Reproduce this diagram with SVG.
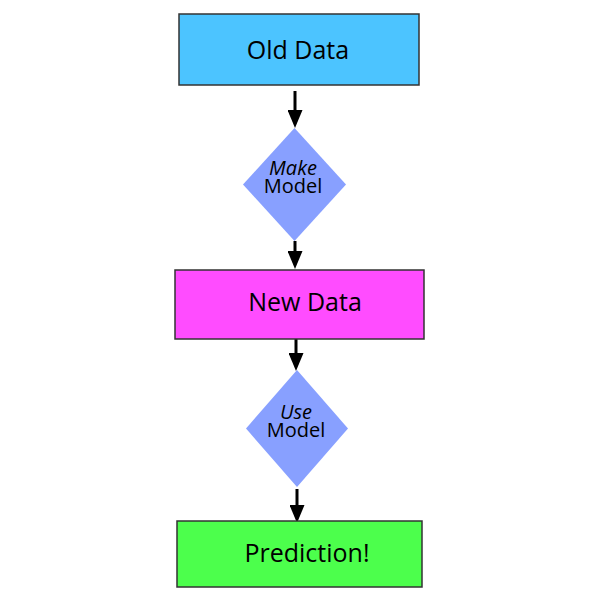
<svg xmlns="http://www.w3.org/2000/svg" width="600" height="600" viewBox="0 0 600 600">
<style>
.box{stroke:#333;stroke-width:1.5}
.dia{fill:#88a0ff;stroke:none}
.t{font-family:"Open Sans","Noto Sans",sans-serif;fill:#000;text-anchor:middle}
.big{font-size:25px}
.sm{font-size:20px}
.arr{stroke:#000;stroke-width:3;fill:none;marker-end:url(#ah)}
</style>
<defs>
<marker id="ah" markerWidth="6" markerHeight="5" refX="0" refY="2.5" orient="auto" markerUnits="strokeWidth">
<path d="M0,0 L6,2.5 L0,5 Z" fill="#000"/>
</marker>
</defs>
<rect width="600" height="600" fill="#fff"/>
<g id="connectors">
<line class="arr" x1="295" y1="91" x2="295" y2="110"/>
<line class="arr" x1="295" y1="241" x2="295" y2="251"/>
<line class="arr" x1="296" y1="339" x2="296" y2="353"/>
<line class="arr" x1="297" y1="489" x2="297" y2="505"/>
</g>
<g id="old-data">
<rect class="box" x="179" y="14" width="240" height="71" fill="#4cc4ff"/>
<text class="t big" x="298" y="59">Old Data</text>
</g>
<g id="make-model">
<polygon class="dia" points="294.5,128 346,184.5 294.5,241 243,184.5"/>
<text class="t sm" x="293" y="175" font-style="italic">Make</text>
<text class="t sm" x="293" y="193">Model</text>
</g>
<g id="new-data">
<rect class="box" x="175" y="270" width="249" height="69" fill="#ff4cff"/>
<text class="t big" x="305" y="311">New Data</text>
</g>
<g id="use-model">
<polygon class="dia" points="297,370 348,428.5 297,487 246,428.5"/>
<text class="t sm" x="296" y="419" font-style="italic">Use</text>
<text class="t sm" x="296" y="437">Model</text>
</g>
<g id="prediction">
<rect class="box" x="177" y="521" width="245" height="66" fill="#4cff4c"/>
<text class="t big" x="307" y="562">Prediction!</text>
</g>
</svg>
